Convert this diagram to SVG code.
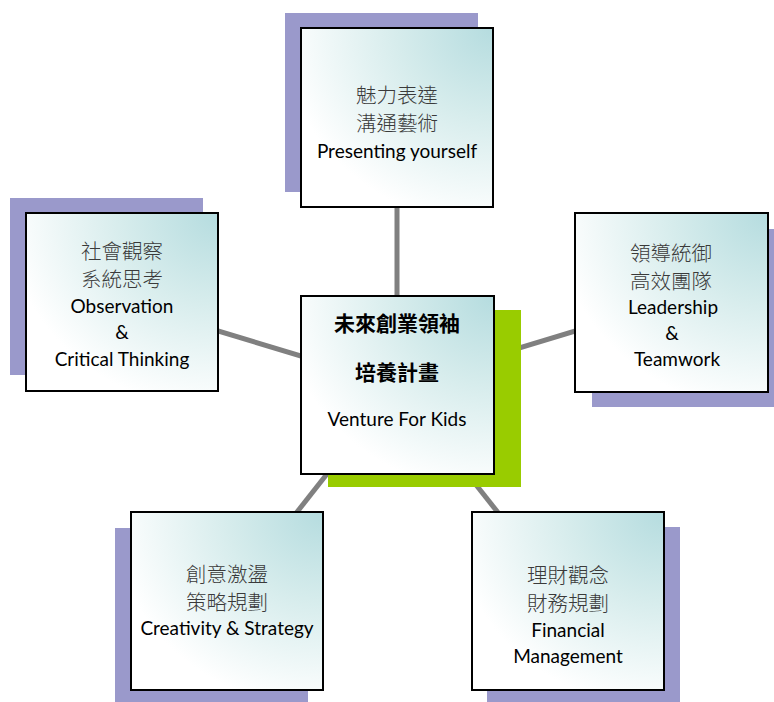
<svg xmlns="http://www.w3.org/2000/svg" width="774" height="702" viewBox="0 0 774 702">
<defs>
<radialGradient id="g" cx="1" cy="0" r="1.1" fx="1" fy="0">
<stop offset="0" stop-color="#b5dcdf"/>
<stop offset="0.45" stop-color="#d6ecec"/>
<stop offset="1" stop-color="#ffffff"/>
</radialGradient>
<style>
.sh{fill:#9a99cb}
.shg{fill:#99cc00}
.bx{fill:url(#g);stroke:#000;stroke-width:2}
.cn{stroke:#808080;stroke-width:5;fill:none}
.zh{font-family:"Noto Sans CJK TC","Noto Sans CJK SC",sans-serif;font-size:20.5px;fill:#3a3a3a;text-anchor:middle;font-weight:300}
.zb{font-family:"Noto Sans CJK TC","Noto Sans CJK SC",sans-serif;font-size:21px;fill:#000;text-anchor:middle;font-weight:bold}
.en{font-family:Lato,"Open Sans",sans-serif;font-size:19px;fill:#000;text-anchor:middle}
</style>
</defs>
<rect width="774" height="702" fill="#fff"/>
<g id="connectors">
<line class="cn" x1="397" y1="385" x2="397" y2="117"/>
<line class="cn" x1="397" y1="385" x2="122" y2="302"/>
<line class="cn" x1="397" y1="385" x2="671" y2="302"/>
<line class="cn" x1="397" y1="385" x2="227" y2="601"/>
<line class="cn" x1="397" y1="385" x2="568" y2="601"/>
</g>
<g id="n-top">
<rect class="sh" x="285" y="13" width="193" height="179"/>
<rect class="bx" x="301" y="28" width="192" height="179"/>
<text class="zh" x="397" y="103">魅力表達</text>
<text class="zh" x="397" y="131">溝通藝術</text>
<text class="en" x="397" y="158">Presenting yourself</text>
</g>
<g id="n-left">
<rect class="sh" x="10" y="198" width="193" height="177"/>
<rect class="bx" x="26" y="213" width="192" height="178"/>
<text class="zh" x="122" y="259">社會觀察</text>
<text class="zh" x="122" y="287">系統思考</text>
<text class="en" x="122" y="313">Observation</text>
<text class="en" x="122" y="339">&amp;</text>
<text class="en" x="122" y="366">Critical Thinking</text>
</g>
<g id="n-right">
<rect class="sh" x="592" y="229" width="193" height="178"/>
<rect class="bx" x="575" y="213" width="193" height="179"/>
<text class="zh" x="671" y="261">領導統御</text>
<text class="zh" x="671" y="289">高效團隊</text>
<text class="en" x="673" y="314">Leadership</text>
<text class="en" x="672" y="340">&amp;</text>
<text class="en" x="677" y="366">Teamwork</text>
</g>
<g id="n-bl">
<rect class="sh" x="115" y="528" width="193" height="174"/>
<rect class="bx" x="131" y="512" width="192" height="178"/>
<text class="zh" x="227" y="582">創意激盪</text>
<text class="zh" x="227" y="610">策略規劃</text>
<text class="en" x="227" y="635">Creativity &amp; Strategy</text>
</g>
<g id="n-br">
<rect class="sh" x="487" y="527" width="193" height="180"/>
<rect class="bx" x="472" y="512" width="192" height="178"/>
<text class="zh" x="568" y="583">理財觀念</text>
<text class="zh" x="568" y="611">財務規劃</text>
<text class="en" x="568" y="637">Financial</text>
<text class="en" x="568" y="663">Management</text>
</g>
<g id="n-center">
<rect class="shg" x="328" y="310" width="193" height="177"/>
<rect class="bx" x="301" y="296" width="193" height="178"/>
<text class="zb" x="397" y="331">未來創業領袖</text>
<text class="zb" x="397" y="380">培養計畫</text>
<text class="en" x="397" y="426">Venture For Kids</text>
</g>
</svg>
